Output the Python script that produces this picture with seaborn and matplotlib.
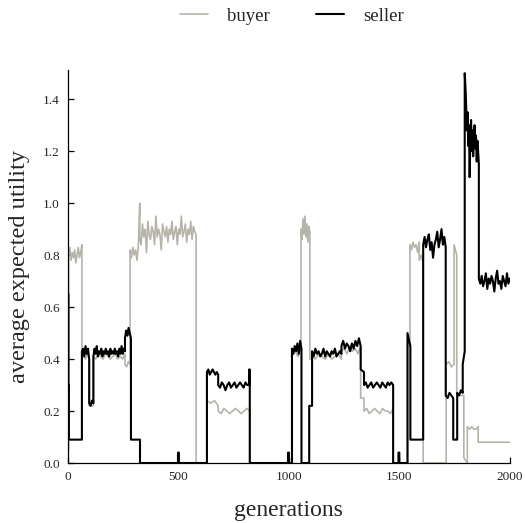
import numpy as np
import pandas as pd
import matplotlib
matplotlib.use("Agg")
import matplotlib.pyplot as plt
import seaborn as sns

# ---- data: (start generation, end generation, values sampled evenly inside) ----
seller_segments = [
    (0, 2, [0.65]),
    (2, 4, [0.30]),
    (4, 63, [0.09]),
    (63, 96, [0.43, 0.44, 0.41, 0.45, 0.42, 0.44, 0.40]),
    (96, 115, [0.23, 0.22, 0.24, 0.23]),
    (115, 258, [0.41, 0.44, 0.42, 0.45, 0.41, 0.43, 0.42, 0.44, 0.41, 0.43, 0.42, 0.44, 0.42, 0.43,
                0.41, 0.44, 0.42, 0.43, 0.42, 0.44, 0.42, 0.43, 0.41, 0.44, 0.42, 0.45, 0.42, 0.44, 0.43]),
    (258, 285, [0.48, 0.51, 0.49, 0.52, 0.50, 0.48]),
    (285, 326, [0.09]),
    (326, 498, [0.0]),
    (498, 502, [0.04]),
    (502, 629, [0.0]),
    (629, 680, [0.35, 0.36, 0.34, 0.35, 0.36, 0.35, 0.34, 0.35, 0.34]),
    (680, 820, [0.30, 0.29, 0.31, 0.30, 0.28, 0.30, 0.31, 0.29, 0.30, 0.31, 0.29, 0.30, 0.31, 0.30,
                0.29, 0.31, 0.30, 0.30]),
    (820, 823, [0.36]),
    (823, 996, [0.0]),
    (996, 1000, [0.04]),
    (1000, 1014, [0.0]),
    (1014, 1057, [0.44, 0.42, 0.45, 0.43, 0.46, 0.42, 0.47, 0.44]),
    (1057, 1092, [0.0]),
    (1092, 1105, [0.22]),
    (1105, 1238, [0.43, 0.41, 0.44, 0.42, 0.43, 0.41, 0.42, 0.44, 0.41, 0.43, 0.42, 0.41, 0.43, 0.42,
                  0.44, 0.41, 0.42, 0.43, 0.42]),
    (1238, 1325, [0.45, 0.47, 0.44, 0.46, 0.45, 0.43, 0.46, 0.44, 0.47, 0.45, 0.48, 0.45]),
    (1325, 1340, [0.36, 0.35]),
    (1340, 1472, [0.30, 0.31, 0.29, 0.30, 0.31, 0.29, 0.30, 0.31, 0.30, 0.29, 0.31, 0.30, 0.29, 0.31,
                  0.30, 0.31, 0.30]),
    (1472, 1496, [0.0]),
    (1496, 1500, [0.04]),
    (1500, 1537, [0.0]),
    (1537, 1550, [0.50, 0.45]),
    (1550, 1608, [0.09]),
    (1608, 1710, [0.84, 0.87, 0.83, 0.86, 0.88, 0.82, 0.85, 0.79, 0.84, 0.86, 0.89, 0.83, 0.86, 0.90,
                  0.84, 0.87, 0.83]),
    (1710, 1744, [0.26, 0.25, 0.27, 0.26, 0.25]),
    (1744, 1762, [0.09]),
    (1762, 1787, [0.27, 0.26, 0.28, 0.27]),
    (1787, 1796, [0.38, 0.43]),
    (1796, 1860, [1.50, 1.45, 1.38, 1.28, 1.35, 1.22, 1.30, 1.10, 1.25, 1.32, 1.20, 1.28, 1.18, 1.25,
                  1.30, 1.21, 1.26, 1.16, 1.24, 1.20, 1.15]),
    (1860, 2000, [0.71, 0.69, 0.72, 0.68, 0.70, 0.73, 0.67, 0.71, 0.69, 0.72, 0.70, 0.66, 0.71, 0.74,
                  0.69, 0.70, 0.67, 0.72, 0.70, 0.68, 0.73, 0.69, 0.71]),
]

buyer_segments = [
    (0, 3, [0.05]),
    (3, 63, [0.80, 0.83, 0.78, 0.81, 0.79, 0.82, 0.77, 0.80, 0.83, 0.79, 0.81, 0.84]),
    (63, 96, [0.42, 0.41, 0.40, 0.42, 0.40]),
    (96, 115, [0.22]),
    (115, 258, [0.41, 0.40, 0.42, 0.41, 0.40, 0.42, 0.41, 0.40, 0.41, 0.42, 0.40, 0.41, 0.40, 0.42]),
    (258, 281, [0.38, 0.37, 0.39, 0.38]),
    (281, 325, [0.82, 0.79, 0.83, 0.80, 0.82, 0.78, 0.84, 1.00]),
    (325, 580, [0.86, 0.84, 0.92, 0.87, 0.90, 0.81, 0.93, 0.88, 0.86, 0.91, 0.89, 0.84, 0.95, 0.87,
                0.90, 0.88, 0.82, 0.92, 0.89, 0.87, 0.91, 0.85, 0.90, 0.88, 0.93, 0.86, 0.89, 0.91,
                0.84, 0.90, 0.88, 0.95, 0.87, 0.89, 0.92, 0.85, 0.90, 0.88, 0.93, 0.86, 0.91, 0.89, 0.88]),
    (580, 629, [0.0]),
    (629, 680, [0.24, 0.23, 0.24, 0.22]),
    (680, 823, [0.20, 0.19, 0.21, 0.20, 0.19, 0.20, 0.21, 0.20, 0.19, 0.20, 0.21, 0.20]),
    (823, 1014, [0.0]),
    (1014, 1055, [0.42, 0.43, 0.41, 0.44]),
    (1055, 1095, [0.90, 0.86, 0.94, 0.88, 0.95, 0.87, 0.92, 0.85, 0.91, 0.89]),
    (1095, 1105, [0.40]),
    (1105, 1238, [0.41, 0.40, 0.42, 0.41, 0.40, 0.42, 0.40, 0.41, 0.42, 0.40]),
    (1238, 1325, [0.43, 0.44, 0.42, 0.45, 0.43, 0.44, 0.42, 0.45]),
    (1325, 1340, [0.25]),
    (1340, 1472, [0.20, 0.21, 0.19, 0.20, 0.21, 0.20, 0.19, 0.21, 0.20, 0.20, 0.19, 0.21]),
    (1472, 1537, [0.0]),
    (1537, 1548, [0.45]),
    (1548, 1590, [0.84, 0.82, 0.85, 0.83, 0.84, 0.81, 0.85]),
    (1590, 1608, [0.78, 0.80, 0.77]),
    (1608, 1712, [0.0]),
    (1712, 1748, [0.38, 0.39, 0.37, 0.38]),
    (1748, 1760, [0.84, 0.80]),
    (1760, 1792, [0.26]),
    (1792, 1808, [0.02, 0.0]),
    (1808, 1857, [0.14, 0.13, 0.14, 0.13, 0.13, 0.14]),
    (1857, 2000, [0.08]),
]

series_names = ["buyer", "seller"]
x_ticks = [0, 500, 1000, 1500, 2000]
y_ticks = [0.0, 0.2, 0.4, 0.6, 0.8, 1.0, 1.2, 1.4]


def expand(segments):
    # samples spread evenly over each segment; jumps between segments are vertical
    gens, vals = [], []
    for start, end, values in segments:
        if len(values) == 1:
            pos = [start, end]
            v = [values[0], values[0]]
        else:
            pos = np.linspace(start, end, len(values)).tolist()
            v = list(values)
        gens.extend(pos)
        vals.extend(v)
    return gens, vals


bg, bv = expand(buyer_segments)
sg, sv = expand(seller_segments)
df_b = pd.DataFrame({"generations": bg, "utility": bv})
df_s = pd.DataFrame({"generations": sg, "utility": sv})

sns.set_style("ticks")
plt.rcParams["font.family"] = ["Liberation Serif", "DejaVu Serif"]

fig = plt.figure(figsize=(5.25, 5.23), dpi=100)
ax = fig.add_axes([0.1295, 0.1147, 0.8415, 0.7513])

sns.lineplot(data=df_b, x="generations", y="utility", ax=ax, color="#b6b4aa",
             lw=1.2, estimator=None, sort=False, label=series_names[0])
sns.lineplot(data=df_s, x="generations", y="utility", ax=ax, color="black",
             lw=1.5, estimator=None, sort=False, label=series_names[1])

ax.set_xlim(0, 2000)
ax.set_ylim(0, 1.512)
ax.set_xticks(x_ticks)
ax.set_yticks(y_ticks)
ax.set_yticklabels([f"{v:.1f}" for v in y_ticks])
ax.tick_params(direction="in", length=4.5, width=0.9, labelsize=9.5, pad=6, color="black")
for side in ["top", "right"]:
    ax.spines[side].set_visible(False)
for side in ["left", "bottom"]:
    ax.spines[side].set_color("black")
    ax.spines[side].set_linewidth(0.9)

ax.set_xlabel("generations", fontsize=17, labelpad=12)
ax.set_ylabel("average expected utility", fontsize=17.5, labelpad=9)

handles, labels = ax.get_legend_handles_labels()
ax.get_legend().remove()
fig.legend(handles, labels, loc="center", bbox_to_anchor=(0.556, 0.969), ncol=2,
           frameon=False, fontsize=13.5, handlelength=1.5, handletextpad=1.0,
           columnspacing=2.5)

fig.savefig("out.png", dpi=100)
